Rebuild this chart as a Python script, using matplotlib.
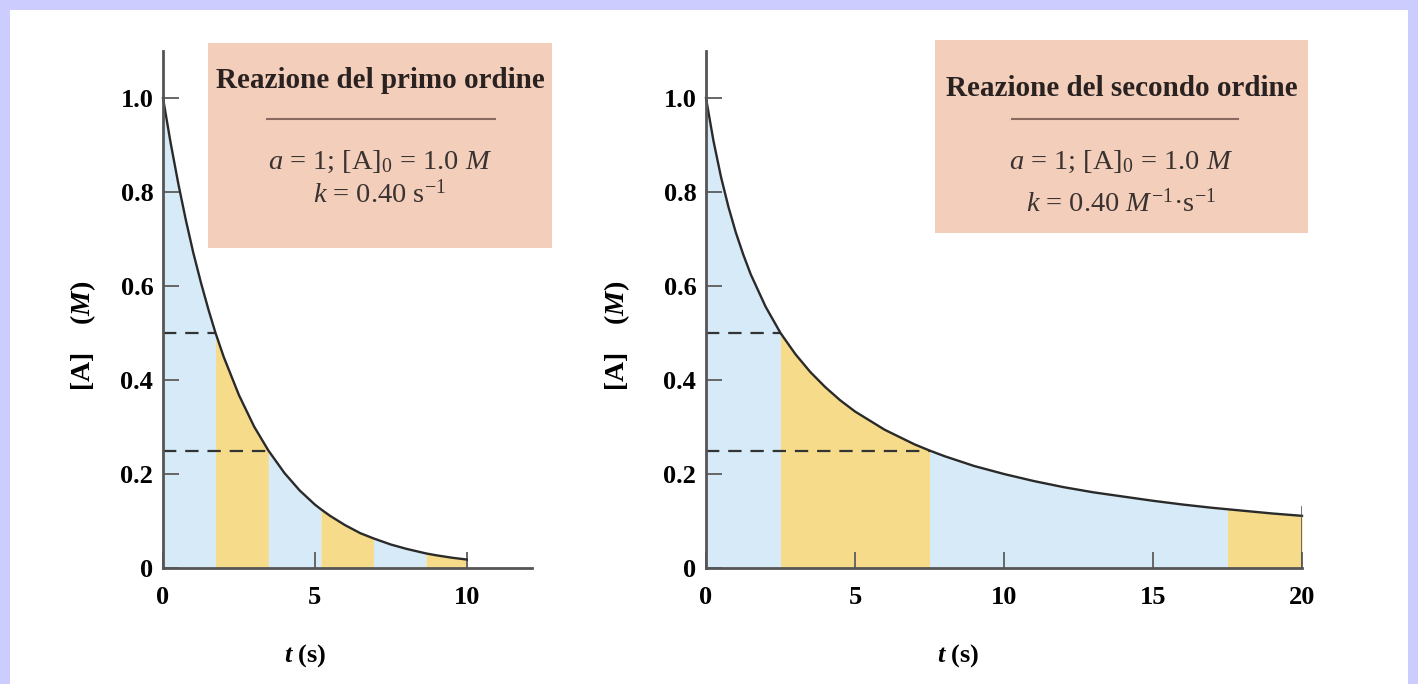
import matplotlib.pyplot as plt
from matplotlib.patches import Rectangle
from matplotlib.lines import Line2D

plt.rcParams['font.family'] = 'Liberation Serif'
plt.rcParams['mathtext.fontset'] = 'custom'
plt.rcParams['mathtext.rm'] = 'Liberation Serif'
plt.rcParams['mathtext.it'] = 'Liberation Serif:italic'
plt.rcParams['mathtext.bf'] = 'Liberation Serif:bold'
plt.rcParams['mathtext.bfit'] = 'Liberation Serif:italic:bold'

# first order curve
t1 = [0, 0.25, 0.5, 0.75, 1.0, 1.25, 1.5, 1.73, 2.0, 2.5, 3.0, 3.47, 4.0, 4.5,
      5.0, 5.2, 5.5, 6.0, 6.5, 6.93, 7.5, 8.0, 8.66, 9.0, 9.5, 10.0]
c1 = [1.0, 0.905, 0.819, 0.741, 0.670, 0.607, 0.549, 0.500, 0.449, 0.368, 0.301,
      0.250, 0.202, 0.165, 0.135, 0.125, 0.111, 0.091, 0.074, 0.063, 0.050,
      0.041, 0.031, 0.027, 0.022, 0.018]
bands1 = [0, 1.73, 3.47, 5.2, 6.93, 8.66, 10.0]

# second order curve
t2 = [0, 0.25, 0.5, 0.75, 1.0, 1.25, 1.5, 2.0, 2.5, 3.0, 3.5, 4.0, 4.5, 5.0,
      6.0, 7.0, 7.5, 8.0, 9.0, 10.0, 11.0, 12.0, 13.0, 14.0, 15.0, 16.0, 17.0,
      17.5, 18.0, 19.0, 20.0]
c2 = [1.0, 0.909, 0.833, 0.769, 0.714, 0.667, 0.625, 0.556, 0.500, 0.455, 0.417,
      0.385, 0.357, 0.333, 0.294, 0.263, 0.250, 0.238, 0.217, 0.200, 0.185,
      0.172, 0.161, 0.152, 0.143, 0.135, 0.128, 0.125, 0.122, 0.116, 0.111]
bands2 = [0, 2.5, 7.5, 17.5, 20.0]

half1 = [(1.73, 0.5), (3.47, 0.25)]
half2 = [(2.5, 0.5), (7.5, 0.25)]

yticks = [0, 0.2, 0.4, 0.6, 0.8, 1.0]
ylabels = ['0', '0.2', '0.4', '0.6', '0.8', '1.0']

blue = '#d6eaf8'
yellow = '#f6dc8a'
peach = '#f2cebb'
W, H = 1418, 684

fig = plt.figure(figsize=(W / 100, H / 100), dpi=100)
fig.patch.set_facecolor('#ccccff')
fig.patches.append(Rectangle((10 / W, 0), (W - 20) / W, (H - 10) / H,
                             transform=fig.transFigure, facecolor='white',
                             edgecolor='none', zorder=-5))


def fx(px):
    return px / W


def fy(py):
    return 1 - py / H


ax1 = fig.add_axes([fx(163), fy(568), 369 / W, 517 / H])
ax2 = fig.add_axes([fx(706), fy(568), 596 / W, 517 / H])


def panel(ax, t, c, bands, half, xmax, xticks, lab_x, ylab_x):
    ax.set_facecolor('none')
    for i in range(len(bands) - 1):
        lo, hi = bands[i], bands[i + 1]
        idx = [j for j in range(len(t)) if lo <= t[j] <= hi]
        ax.fill_between([t[j] for j in idx], [c[j] for j in idx], 0,
                        color=blue if i % 2 == 0 else yellow, lw=0, zorder=1)
    ax.plot(t, c, color='#2a2a2a', lw=1.7, zorder=3, clip_on=False)
    for x, y in half:
        ax.plot([0, x], [y, y], color='#333', lw=1.6, ls=(0, (6, 4)), zorder=2)
    ax.set_xlim(0, xmax)
    ax.set_ylim(0, 1.1)
    for s in ['top', 'right']:
        ax.spines[s].set_visible(False)
    for s in ['left', 'bottom']:
        ax.spines[s].set_color('#555')
        ax.spines[s].set_linewidth(2)
        ax.spines[s].set_zorder(4)
    ax.set_yticks(yticks)
    ax.set_yticklabels(ylabels, fontweight='bold', fontsize=19)
    ax.set_xticks(xticks)
    ax.set_xticklabels([str(v) for v in xticks], fontweight='bold', fontsize=19)
    ax.tick_params(direction='in', length=11.5, width=1.4, color='#666')
    ax.tick_params(axis='y', pad=7)
    ax.tick_params(axis='x', pad=13)
    ax.set_xlabel(r'$\mathbfit{t}$ (s)', fontsize=19, fontweight='bold')
    ax.xaxis.set_label_coords(lab_x, -0.144)
    ax.set_ylabel(r'[A]    ($\mathbfit{M}$)', fontsize=20, fontweight='bold')
    ax.yaxis.set_label_coords(ylab_x, 0.45)


panel(ax1, t1, c1, bands1, half1, 12.15, [0, 5, 10], 0.385, -0.176)
panel(ax2, t2, c2, bands2, half2, 20, [0, 5, 10, 15, 20], 0.423, -0.124)
ax2.plot([20, 20], [0, 0.13], color='#555', lw=1.2, zorder=4)


def box(x0, y0, x1, y1, title, ty, rule, lines):
    fig.patches.append(Rectangle((fx(x0), fy(y1)), (x1 - x0) / W, (y1 - y0) / H,
                                 transform=fig.transFigure, facecolor=peach,
                                 edgecolor='none', zorder=1))
    cx = fx((x0 + x1) / 2)
    fig.text(cx, fy(ty), title, ha='center', va='center', fontsize=21,
             fontweight='bold', color='#2a2220')
    fig.lines.append(Line2D([fx(rule[0]), fx(rule[1])], [fy(119), fy(119)],
                            transform=fig.transFigure, color='#8a6a5e', lw=1.5))
    for txt, y in lines:
        fig.text(cx, fy(y), txt, ha='center', va='center', fontsize=20.5,
                 color='#3a3230')


box(208, 43, 552, 248, 'Reazione del primo ordine', 80, (267, 495),
    [(r'$a$ = 1; [A]$_0$ = 1.0 $M$', 162), (r'$k$ = 0.40 s$^{-1}$', 194)])
box(935, 40, 1308, 233, 'Reazione del secondo ordine', 88, (1012, 1238),
    [(r'$a$ = 1; [A]$_0$ = 1.0 $M$', 162), (r'$k$ = 0.40 $M^{-1}$·s$^{-1}$', 203)])

fig.savefig('out.png', dpi=100, facecolor=fig.get_facecolor())
